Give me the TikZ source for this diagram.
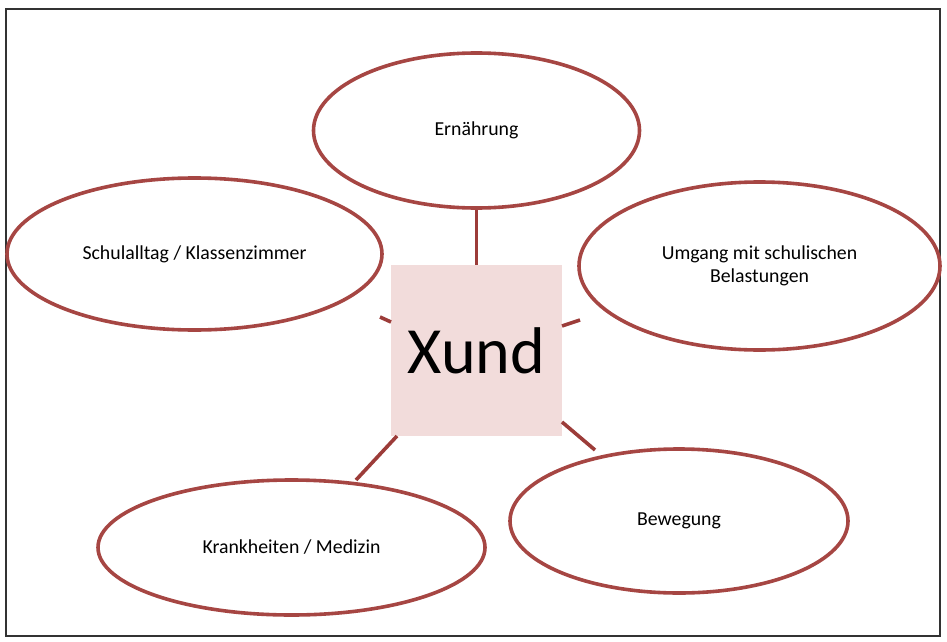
\documentclass[tikz,border=0pt]{standalone}
\usepackage{fontspec}
\setmainfont{Carlito}
\usetikzlibrary{shapes.geometric}
\definecolor{ringred}{RGB}{166,70,67}
\definecolor{linkred}{RGB}{156,60,57}
\definecolor{boxfill}{RGB}{242,220,219}
\definecolor{framegrey}{RGB}{50,50,50}
\tikzset{
  topic/.style={ellipse, draw=ringred, line width=3.6pt, fill=white, inner sep=0pt, align=center, font=\fontsize{19.8}{23.5}\selectfont},
  link/.style={draw=linkred, line width=3.6pt},
  centerbox/.style={rectangle, fill=boxfill, inner sep=0pt, minimum width=171pt, minimum height=171pt, font=\fontsize{66}{70}\selectfont}
}
\begin{document}
\begin{tikzpicture}[x=1pt,y=-1pt]
\useasboundingbox (0,0) rectangle (947,642);
\fill[white] (0,0) rectangle (947,642);
\draw[framegrey, line width=2pt] (6,9) rectangle (940,636);

\node[topic, minimum width=326pt, minimum height=155pt] (ern) at (476.5,130.5) {Ernährung};
\node[topic, minimum width=375pt, minimum height=152pt] (schul) at (194.5,254) {Schulalltag / Klassenzimmer};
\node[topic, minimum width=361pt, minimum height=168pt] (umg) at (759.5,266) {Umgang mit schulischen\\Belastungen};
\node[topic, minimum width=387pt, minimum height=135pt] (krank) at (291.5,547.5) {Krankheiten / Medizin};
\node[topic, minimum width=338pt, minimum height=144pt] (bew) at (679,521) {Bewegung};

\node[centerbox] (xund) at (476.5,350.5) {Xund};

\coordinate (lend) at (380,317);
\coordinate (rend) at (580,320);
\coordinate (blend) at (356,480);
\coordinate (brend) at (595,450);
\coordinate (xl) at (391,322);
\coordinate (xr) at (562,326);
\coordinate (xbl) at (397,436);
\coordinate (xbr) at (562,422);

\draw[link] (xund.north) -- (ern.south);
\draw[link] (xl) -- (lend);
\draw[link] (xr) -- (rend);
\draw[link] (xbl) -- (blend);
\draw[link] (xbr) -- (brend);
\end{tikzpicture}
\end{document}
